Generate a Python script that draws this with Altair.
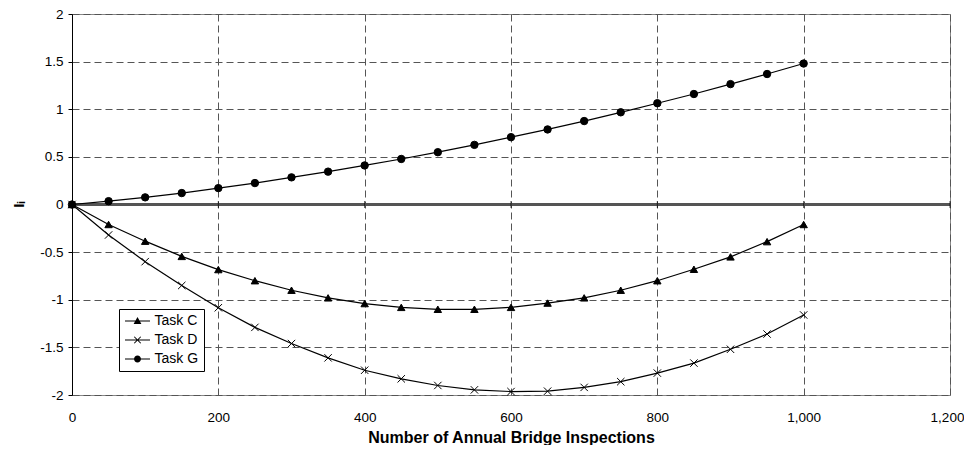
import altair as alt
import pandas as pd

inspections = [0, 50, 100, 150, 200, 250, 300, 350, 400, 450, 500,
               550, 600, 650, 700, 750, 800, 850, 900, 950, 1000]
task_c = [0, -0.21, -0.385, -0.545, -0.683, -0.80, -0.90, -0.98, -1.04, -1.08, -1.10,
          -1.10, -1.08, -1.035, -0.98, -0.90, -0.80, -0.68, -0.55, -0.39, -0.21]
task_d = [0, -0.32, -0.60, -0.85, -1.084, -1.29, -1.46, -1.61, -1.74, -1.83, -1.90,
          -1.946, -1.964, -1.96, -1.92, -1.86, -1.77, -1.665, -1.52, -1.36, -1.16]
task_g = [0, 0.035, 0.075, 0.12, 0.172, 0.225, 0.285, 0.345, 0.41, 0.478, 0.549,
          0.626, 0.707, 0.788, 0.876, 0.968, 1.063, 1.16, 1.264, 1.37, 1.48]
series_names = ["Task C", "Task D", "Task G"]
x_ticks = [0, 200, 400, 600, 800, 1000, 1200]
y_ticks = [-2, -1.5, -1, -0.5, 0, 0.5, 1, 1.5, 2]

rows = []
for name, vals in zip(series_names, [task_c, task_d, task_g]):
    for x, v in zip(inspections, vals):
        rows.append({"x": x, "value": v, "series": name})
df = pd.DataFrame(rows)
tick_df = pd.DataFrame({"x": x_ticks})

FONT = "Liberation Sans"
xscale = alt.Scale(domain=[0, 1200], nice=False, zero=False)
yscale = alt.Scale(domain=[-2, 2], nice=False, zero=False)

x_axis = alt.Axis(values=x_ticks, format=",d", title="Number of Annual Bridge Inspections",
                  grid=True, gridColor="#555555", gridDash=[7, 4], gridWidth=1,
                  domain=False, ticks=False, tickSize=0, labelPadding=15, labelFlush=False,
                  labelOffset={"condition": {"test": "datum.value == 1200", "value": -3}, "value": 0},
                  labelFont=FONT, labelFontSize=13.5, labelColor="black",
                  titleFont=FONT, titleFontSize=16, titleFontWeight="bold", titleColor="black",
                  titleY=42, titleBaseline="middle")
y_axis = alt.Axis(values=y_ticks, labelExpr="datum.value + ''", title="Iᵢ",
                  grid=True, gridColor="#555555", gridDash=[7, 4], gridWidth=1,
                  domain=True, domainColor="black", domainWidth=1, labelFlush=False,
                  ticks=True, tickColor="black", tickSize=4, labelPadding=5,
                  labelFont=FONT, labelFontSize=13.5, labelColor="black",
                  titleFont=FONT, titleFontSize=15, titleFontWeight="bold", titleColor="black",
                  titleX=-54, titleY=190, titleAngle=-90, titleAlign="center", titleBaseline="middle")

lines = alt.Chart(df).mark_line(color="black", strokeWidth=1.2).encode(
    x=alt.X("x:Q", scale=xscale, axis=x_axis),
    y=alt.Y("value:Q", scale=yscale, axis=y_axis),
    detail="series:N",
)

zero_rule = alt.Chart(df).mark_rule(color="#555555", strokeWidth=1.4).encode(
    y=alt.datum(0)
)

zero_ticks = alt.Chart(tick_df).mark_tick(orient="vertical", color="black", size=7, thickness=1).encode(
    x=alt.X("x:Q"),
    y=alt.datum(0),
)

marker_paths = ["triangle-up", "M-1,-1L1,1M-1,1L1,-1", "circle"]
points = alt.Chart(df).mark_point(filled=True, color="black", stroke="black", strokeWidth=1,
                                  opacity=1, size=55).encode(
    x="x:Q",
    y="value:Q",
    shape=alt.Shape("series:N", scale=alt.Scale(domain=series_names, range=marker_paths), legend=None),
)

# legend glyphs: a thin filled bar (the line) plus the marker, all as filled shapes
bar = "M-2.5,-0.11H2.5V0.11H-2.5Z"
legend_paths = [
    bar + "M0,-0.8L0.78,0.62L-0.78,0.62Z",
    bar + "M-0.58,-0.72L0.72,0.58L0.58,0.72L-0.72,-0.58Z"
          "M-0.72,0.58L0.58,-0.72L0.72,-0.58L-0.58,0.72Z",
    bar + "M0.7,0A0.7,0.7 0 1,1 -0.7,0A0.7,0.7 0 1,1 0.7,0Z",
]
legend_layer = alt.Chart(df).transform_filter("datum.x > 5000").mark_point(
    filled=True, color="black", opacity=1, size=100
).encode(
    x="x:Q",
    y="value:Q",
    shape=alt.Shape("series:N", scale=alt.Scale(domain=series_names, range=legend_paths),
                    legend=alt.Legend(title=None, orient="none", legendX=47, legendY=295,
                                      strokeColor="black", fillColor="white", padding=5,
                                      symbolOffset=6.5, labelOffset=10, rowPadding=5,
                                      labelFont=FONT, labelFontSize=14, labelColor="black",
                                      symbolSize=100, symbolOpacity=1,
                                      symbolFillColor="black")),
)

chart = alt.layer(zero_rule, zero_ticks, lines, points, legend_layer).resolve_scale(
    shape="independent"
).properties(
    width=878, height=381, autosize="none",
    padding={"left": 64, "top": 6, "right": 14, "bottom": 50},
).configure_view(stroke="#888888", strokeWidth=1)

chart.save("out.html", embed_options={"renderer": "svg", "actions": False})
